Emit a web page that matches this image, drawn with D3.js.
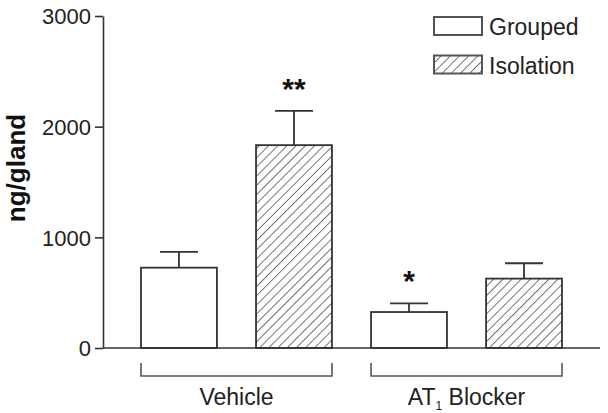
<!DOCTYPE html>
<html>
<head>
<meta charset="utf-8">
<script src="https://cdn.jsdelivr.net/npm/d3@7"></script>
<style>
  body { margin: 0; background: #fff; }
  svg { font-family: 'Liberation Sans', Arial, sans-serif; }
</style>
</head>
<body>
<div id="chart"></div>
<script>
const groups = ['Vehicle', 'AT1 Blocker']
const conditions = ['Grouped', 'Isolation']
const means = [726, 1833, 325, 627]
const errors = [142, 310, 79, 139]
const stars = ['', '**', '*', '']
const yTicks = [0, 1000, 2000, 3000]

const W = 608, H = 413
const svg = d3.select('#chart').append('svg')
  .attr('width', W).attr('height', H)

const ink = '#333'

const defs = svg.append('defs')
const pat = defs.append('pattern')
  .attr('id', 'hatch')
  .attr('patternUnits', 'userSpaceOnUse')
  .attr('width', 6.5).attr('height', 6.5)
  .attr('patternTransform', 'rotate(45)')
pat.append('rect').attr('width', 6.5).attr('height', 6.5).attr('fill', '#fff')
pat.append('line')
  .attr('x1', 0).attr('y1', 0).attr('x2', 0).attr('y2', 6.5)
  .attr('stroke', '#555').attr('stroke-width', 1.6)

const y = d3.scaleLinear().domain([0, 3000]).range([348, 16])

const x0 = d3.scaleBand().domain(groups).range([141, 562]).paddingInner(0.17).paddingOuter(0)
const x1 = d3.scaleBand().domain(conditions).range([0, x0.bandwidth()]).paddingInner(0.34).paddingOuter(0)

const bars = []
groups.forEach((g, gi) => conditions.forEach((c, ci) => {
  const i = gi * 2 + ci
  bars.push({ g, c, mean: means[i], err: errors[i], star: stars[i] })
}))

// y axis
const yAxis = svg.append('g')
  .attr('transform', 'translate(103,0)')
  .call(d3.axisLeft(y).tickValues(yTicks).tickFormat(d3.format('d'))
    .tickSize(8).tickPadding(4).tickSizeOuter(0))
yAxis.select('.domain').attr('stroke', ink).attr('stroke-width', 1.6)
yAxis.selectAll('.tick line').attr('stroke', ink).attr('stroke-width', 1.6)
yAxis.selectAll('.tick text').attr('fill', '#222').style('font-size', '22px').attr('dy', '0.36em')

svg.append('text')
  .attr('transform', 'translate(25,168) rotate(-90)')
  .attr('text-anchor', 'middle')
  .style('font-size', '26px')
  .style('font-weight', 'bold')
  .attr('fill', '#111')
  .text('ng/gland')

// error bars
const eb = svg.append('g')
bars.forEach(d => {
  const cx = x0(d.g) + x1(d.c) + x1.bandwidth() / 2
  const hw = x1.bandwidth() / 4
  eb.append('line').attr('x1', cx).attr('x2', cx)
    .attr('y1', y(d.mean)).attr('y2', y(d.mean + d.err))
    .attr('stroke', ink).attr('stroke-width', 1.8)
  eb.append('line').attr('x1', cx - hw).attr('x2', cx + hw)
    .attr('y1', y(d.mean + d.err)).attr('y2', y(d.mean + d.err))
    .attr('stroke', ink).attr('stroke-width', 1.8)
  if (d.star) {
    svg.append('text')
      .attr('x', cx).attr('y', y(d.mean + d.err) - 12)
      .attr('text-anchor', 'middle')
      .style('font-size', '30px').style('font-weight', 'bold')
      .attr('fill', '#111')
      .text(d.star)
  }
})

// bars
svg.append('g').selectAll('rect')
  .data(bars)
  .join('rect')
  .attr('x', d => x0(d.g) + x1(d.c))
  .attr('y', d => y(d.mean))
  .attr('width', x1.bandwidth())
  .attr('height', d => y(0) - y(d.mean))
  .attr('fill', d => d.c === 'Isolation' ? 'url(#hatch)' : '#fff')
  .attr('stroke', ink)
  .attr('stroke-width', 1.8)

// x axis baseline
svg.append('line')
  .attr('x1', 103).attr('x2', 600)
  .attr('y1', y(0)).attr('y2', y(0))
  .attr('stroke', ink).attr('stroke-width', 1.6)

// group brackets
groups.forEach(g => {
  const a = x0(g), b = x0(g) + x0.bandwidth()
  svg.append('path')
    .attr('d', `M${a},363V376H${b}V363`)
    .attr('fill', 'none').attr('stroke', '#555').attr('stroke-width', 1.6)
  const t = svg.append('text')
    .attr('x', (a + b) / 2).attr('y', 405)
    .attr('text-anchor', 'middle')
    .style('font-size', '23px')
    .attr('fill', '#222')
  if (g === 'AT1 Blocker') {
    t.append('tspan').text('AT')
    t.append('tspan').attr('dy', 5).style('font-size', '12px').text('1')
    t.append('tspan').attr('dy', -5).text(' Blocker')
  } else {
    t.text(g)
  }
})

// legend
const leg = svg.append('g')
conditions.forEach((c, i) => {
  const ly = 17 + i * 38.5
  leg.append('rect')
    .attr('x', 434).attr('y', ly).attr('width', 48).attr('height', 18)
    .attr('fill', c === 'Isolation' ? 'url(#hatch)' : '#fff')
    .attr('stroke', '#555').attr('stroke-width', 2)
  leg.append('text')
    .attr('x', 489).attr('y', ly + 18)
    .style('font-size', '23px')
    .attr('fill', '#222')
    .text(c)
})
</script>
</body>
</html>
